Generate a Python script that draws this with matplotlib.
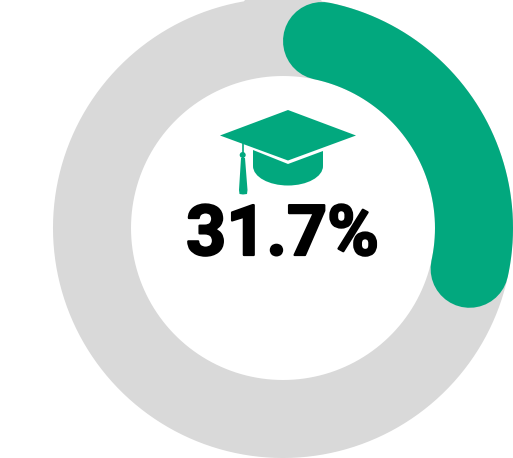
import numpy as np
import matplotlib
matplotlib.use("Agg")
import matplotlib.pyplot as plt
from matplotlib.patches import Polygon, Circle, PathPatch
from matplotlib.path import Path
import matplotlib.patheffects as pe

# Share of the ring filled in
percent = 31.7
label = "31.7%"

GREEN = "#02A87E"
GRAY = "#D9D9D9"
W, H = 513, 458
CX, CY = 283, 228
RING_R = 191
RING_W = 78

# Cap outline in pixel coordinates
board_x = [288, 356, 288, 220]
board_y = [110, 135.5, 160.5, 135.5]
tassel_x = [241, 245, 247.5, 247, 243, 239.5, 239]
tassel_y = [158, 158, 190, 194, 194.5, 194, 190]

# Skull part of the cap, curved underneath
base_verts = [(253, 150), (288, 164), (323, 151), (323, 166),
              (323, 177), (307, 185.5), (288, 185.5),
              (269, 185.5), (253, 177), (253, 166), (253, 150)]
base_codes = [Path.MOVETO, Path.LINETO, Path.LINETO, Path.LINETO,
              Path.CURVE4, Path.CURVE4, Path.CURVE4,
              Path.CURVE4, Path.CURVE4, Path.CURVE4, Path.CLOSEPOLY]

fig = plt.figure(figsize=(W / 100, H / 100), dpi=100)

# Ring goes on a polar axes, clockwise from twelve o'clock
ax = fig.add_axes([(CX - 230) / W, 1 - (CY + 230) / H, 460 / W, 460 / H], projection="polar")
ax.set_theta_zero_location("N")
ax.set_theta_direction(-1)
ax.set_rlim(0, 230)
ax.axis("off")

lw = RING_W * 72 / 100
theta = np.linspace(0, 2 * np.pi, 361)
ax.plot(theta, np.full_like(theta, RING_R), color=GRAY, lw=lw, clip_on=False, zorder=1)

# Round caps stick out past the line ends, so pull the ends in by the cap angle
cap = np.arcsin((RING_W / 2) / RING_R)
end = percent / 100 * 2 * np.pi
theta = np.linspace(cap, end - cap, 200)
ax.plot(theta, np.full_like(theta, RING_R), color=GREEN, lw=lw,
        solid_capstyle="round", clip_on=False, zorder=2)

# Overlay in pixels for the icon and the number
top = fig.add_axes([0, 0, 1, 1])
top.set_xlim(0, W)
top.set_ylim(H, 0)
top.axis("off")

top.add_patch(PathPatch(Path(base_verts, base_codes), fc=GREEN, ec="none"))
top.add_patch(Polygon(np.column_stack([board_x, board_y]), fc=GREEN, ec="none"))
top.plot([242.7, 242.7], [143, 158], color=GREEN, lw=1.2)
top.add_patch(Circle((242.7, 155), 3, fc=GREEN, ec="none"))
top.add_patch(Polygon(np.column_stack([tassel_x, tassel_y]), fc=GREEN, ec="none"))

txt = top.text(282.5, 255, label, ha="center", va="baseline", fontsize=50.5,
               fontfamily="Roboto", fontweight="bold", color="black")
txt.set_path_effects([pe.withStroke(linewidth=1.6, foreground="black")])

fig.savefig("out.png", dpi=100)
